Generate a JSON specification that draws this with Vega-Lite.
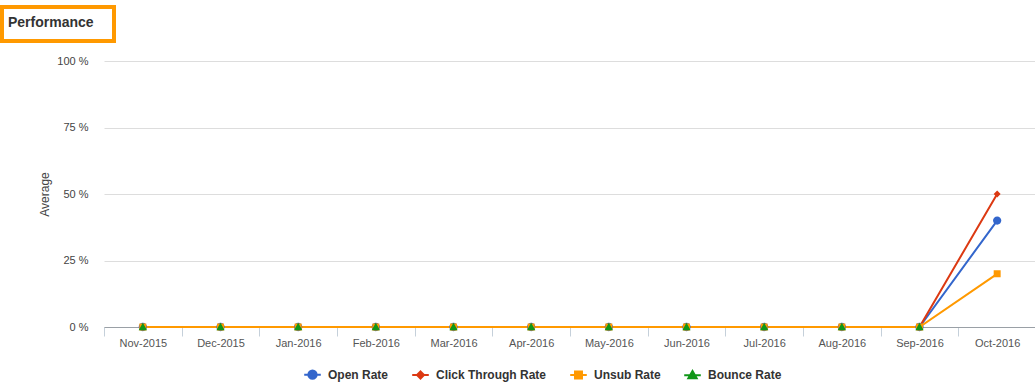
{
  "$schema": "https://vega.github.io/schema/vega-lite/v6.json",
  "padding": {"left": 0, "top": 5, "right": 0, "bottom": 0},
  "spacing": 12,
  "config": {
    "view": {"stroke": null},
    "font": "Liberation Sans"
  },
  "vconcat": [
    {
      "width": 112,
      "height": 34,
      "view": {"stroke": "#ff9900", "strokeWidth": 4},
      "data": {"values": [{"heading": "Performance"}]},
      "mark": {"type": "text", "align": "left", "baseline": "alphabetic", "dx": -50, "dy": 3, "font": "Liberation Sans", "fontSize": 14, "fontWeight": "bold", "color": "#333333"},
      "encoding": {"text": {"field": "heading", "type": "nominal"}}
    },
    {
      "spacing": 0,
      "hconcat": [
        {
          "width": 36,
          "height": 266,
          "view": {"fill": "#ffffff", "stroke": null},
          "data": {"values": []},
          "mark": "point"
        },
        {
          "width": 932,
          "height": 266,
          "data": {"values": [
            {"month": "Nov-2015", "series": "Open Rate", "value": 0},
            {"month": "Nov-2015", "series": "Click Through Rate", "value": 0},
            {"month": "Nov-2015", "series": "Unsub Rate", "value": 0},
            {"month": "Nov-2015", "series": "Bounce Rate", "value": 0},
            {"month": "Dec-2015", "series": "Open Rate", "value": 0},
            {"month": "Dec-2015", "series": "Click Through Rate", "value": 0},
            {"month": "Dec-2015", "series": "Unsub Rate", "value": 0},
            {"month": "Dec-2015", "series": "Bounce Rate", "value": 0},
            {"month": "Jan-2016", "series": "Open Rate", "value": 0},
            {"month": "Jan-2016", "series": "Click Through Rate", "value": 0},
            {"month": "Jan-2016", "series": "Unsub Rate", "value": 0},
            {"month": "Jan-2016", "series": "Bounce Rate", "value": 0},
            {"month": "Feb-2016", "series": "Open Rate", "value": 0},
            {"month": "Feb-2016", "series": "Click Through Rate", "value": 0},
            {"month": "Feb-2016", "series": "Unsub Rate", "value": 0},
            {"month": "Feb-2016", "series": "Bounce Rate", "value": 0},
            {"month": "Mar-2016", "series": "Open Rate", "value": 0},
            {"month": "Mar-2016", "series": "Click Through Rate", "value": 0},
            {"month": "Mar-2016", "series": "Unsub Rate", "value": 0},
            {"month": "Mar-2016", "series": "Bounce Rate", "value": 0},
            {"month": "Apr-2016", "series": "Open Rate", "value": 0},
            {"month": "Apr-2016", "series": "Click Through Rate", "value": 0},
            {"month": "Apr-2016", "series": "Unsub Rate", "value": 0},
            {"month": "Apr-2016", "series": "Bounce Rate", "value": 0},
            {"month": "May-2016", "series": "Open Rate", "value": 0},
            {"month": "May-2016", "series": "Click Through Rate", "value": 0},
            {"month": "May-2016", "series": "Unsub Rate", "value": 0},
            {"month": "May-2016", "series": "Bounce Rate", "value": 0},
            {"month": "Jun-2016", "series": "Open Rate", "value": 0},
            {"month": "Jun-2016", "series": "Click Through Rate", "value": 0},
            {"month": "Jun-2016", "series": "Unsub Rate", "value": 0},
            {"month": "Jun-2016", "series": "Bounce Rate", "value": 0},
            {"month": "Jul-2016", "series": "Open Rate", "value": 0},
            {"month": "Jul-2016", "series": "Click Through Rate", "value": 0},
            {"month": "Jul-2016", "series": "Unsub Rate", "value": 0},
            {"month": "Jul-2016", "series": "Bounce Rate", "value": 0},
            {"month": "Aug-2016", "series": "Open Rate", "value": 0},
            {"month": "Aug-2016", "series": "Click Through Rate", "value": 0},
            {"month": "Aug-2016", "series": "Unsub Rate", "value": 0},
            {"month": "Aug-2016", "series": "Bounce Rate", "value": 0},
            {"month": "Sep-2016", "series": "Open Rate", "value": 0},
            {"month": "Sep-2016", "series": "Click Through Rate", "value": 0},
            {"month": "Sep-2016", "series": "Unsub Rate", "value": 0},
            {"month": "Sep-2016", "series": "Bounce Rate", "value": 0},
            {"month": "Oct-2016", "series": "Open Rate", "value": 40},
            {"month": "Oct-2016", "series": "Click Through Rate", "value": 50},
            {"month": "Oct-2016", "series": "Unsub Rate", "value": 20}
          ]},
          "encoding": {
            "x": {
              "field": "month", "type": "nominal",
              "sort": ["Nov-2015","Dec-2015","Jan-2016","Feb-2016","Mar-2016","Apr-2016","May-2016","Jun-2016","Jul-2016","Aug-2016","Sep-2016","Oct-2016"],
              "scale": {"type": "band", "paddingInner": 0, "paddingOuter": 0},
              "axis": {"title": null, "labelAngle": 0, "tickBand": "extent", "domainColor": "#9aa0a6", "domainWidth": 1, "tickColor": "#c5d0da", "tickSize": 9, "labelPadding": 1, "labelFontSize": 11, "labelColor": "#555555", "grid": false}
            },
            "y": {
              "field": "value", "type": "quantitative",
              "scale": {"domain": [0, 100], "nice": false},
              "axis": {"title": "Average", "values": [0, 25, 50, 75, 100], "labelExpr": "datum.value + ' %'", "domain": false, "ticks": false, "labelPadding": 16, "labelFontSize": 11, "labelColor": "#444444", "gridColor": "#dddddd", "titlePadding": 5.5, "titleFontSize": 12, "titleFontWeight": "normal", "titleColor": "#444444"}
            }
          },
          "layer": [
            {
              "transform": [{"filter": "datum.series !== 'Bounce Rate'"}],
              "mark": {"type": "line", "strokeWidth": 2},
              "encoding": {
                "color": {"field": "series", "type": "nominal", "sort": ["Open Rate", "Click Through Rate", "Unsub Rate", "Bounce Rate"], "scale": {"domain": ["Open Rate", "Click Through Rate", "Unsub Rate", "Bounce Rate"], "range": ["#3366cc", "#dc3912", "#ff9900", "#109618"]}}
              }
            },
            {
              "mark": {"type": "point", "filled": true, "opacity": 1, "size": 275},
              "encoding": {
                "color": {"field": "series", "type": "nominal", "sort": ["Open Rate", "Click Through Rate", "Unsub Rate", "Bounce Rate"], "scale": {"domain": ["Open Rate", "Click Through Rate", "Unsub Rate", "Bounce Rate"], "range": ["#3366cc", "#dc3912", "#ff9900", "#109618"]},
                  "legend": {"title": null, "orient": "none", "legendX": 301, "legendY": 358, "direction": "horizontal", "labelFont": "Liberation Sans", "labelFontSize": 12, "labelFontWeight": "bold", "labelColor": "#333333", "symbolSize": 275, "labelOffset": 6, "columnPadding": 19, "symbolStrokeWidth": 2,
                    "encoding": {"symbols": {"update": {"stroke": {"scale": "color", "field": "value"}, "strokeWidth": {"value": 2}}}}}},
                "shape": {"field": "series", "type": "nominal", "sort": ["Open Rate", "Click Through Rate", "Unsub Rate", "Bounce Rate"],
                  "scale": {"domain": ["Open Rate", "Click Through Rate", "Unsub Rate", "Bounce Rate"], "range": [
                    "M-1,0L1,0M0.5,0C0.5,0.276,0.276,0.5,0,0.5C-0.276,0.5,-0.5,0.276,-0.5,0C-0.5,-0.276,-0.276,-0.5,0,-0.5C0.276,-0.5,0.5,-0.276,0.5,0Z",
                    "M-1,0L1,0M0,-0.42L0.42,0L0,0.42L-0.42,0Z",
                    "M-1,0L1,0M-0.42,-0.42L0.42,-0.42L0.42,0.42L-0.42,0.42Z",
                    "M-1,0L1,0M0,-0.5L0.5,0.38L-0.5,0.38Z"
                  ]},
                  "legend": {"title": null, "orient": "none", "legendX": 301, "legendY": 358, "direction": "horizontal", "labelFont": "Liberation Sans", "labelFontSize": 12, "labelFontWeight": "bold", "labelColor": "#333333", "symbolSize": 275, "labelOffset": 6, "columnPadding": 19, "symbolStrokeWidth": 2,
                    "encoding": {"symbols": {"update": {"stroke": {"scale": "color", "field": "value"}, "strokeWidth": {"value": 2}}}}}}
              }
            }
          ]
        }
      ]
    }
  ]
}
